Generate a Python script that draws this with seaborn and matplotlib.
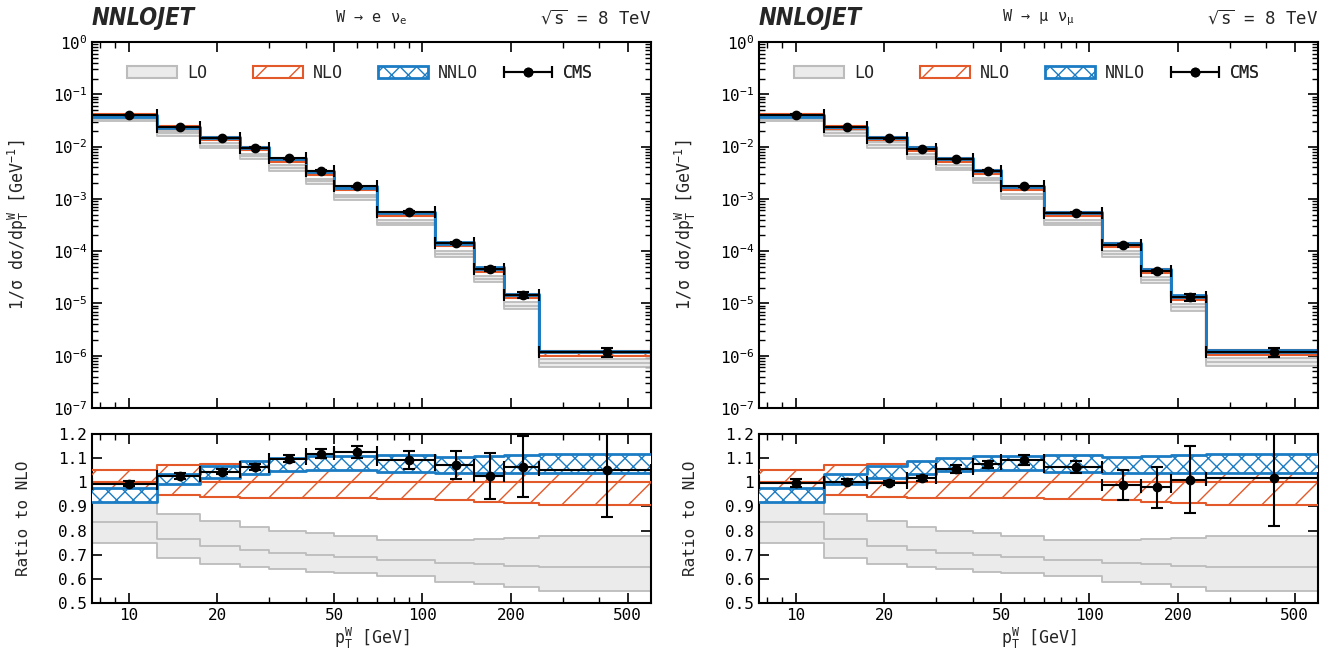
#!/usr/bin/env python3
"""
W boson pT spectrum at 8 TeV: NNLOJET predictions vs CMS data
"""

import numpy as np
import matplotlib
matplotlib.use('Agg')
import matplotlib.pyplot as plt
import seaborn as sns
from matplotlib.patches import Patch
from matplotlib.legend_handler import HandlerErrorbar
from matplotlib.ticker import FixedLocator, FuncFormatter, LogFormatterSciNotation, NullFormatter

# bins in pT^W [GeV]
bin_edges = [7.5, 12.5, 17.5, 24, 30, 40, 50, 70, 110, 150, 190, 250, 600]
pt_centers = [10, 15, 20.75, 27, 35, 45, 60, 90, 130, 170, 220, 425]

# NLO central normalised cross sections [GeV^-1]
nlo_e_xs = [0.0408, 0.0233, 0.01408, 0.00902, 0.00544, 0.00309, 0.00156,
            0.000508, 1.335e-4, 4.39e-5, 1.38e-5, 1.11e-6]
nlo_mu_xs = [0.0407, 0.0234, 0.01434, 0.00888, 0.00550, 0.00322, 0.00158,
             0.000507, 1.31e-4, 4.18e-5, 1.29e-5, 1.15e-6]

# theory bands as ratio to NLO central
lo_ratio_hi = [0.920, 0.869, 0.838, 0.813, 0.800, 0.788, 0.776, 0.762, 0.759, 0.765, 0.769, 0.779]
lo_ratio_mid = [0.835, 0.766, 0.738, 0.720, 0.709, 0.700, 0.690, 0.678, 0.665, 0.660, 0.655, 0.648]
lo_ratio_low = [0.748, 0.688, 0.662, 0.648, 0.640, 0.630, 0.623, 0.612, 0.588, 0.577, 0.567, 0.549]

nlo_ratio_hi = [1.050, 1.070, 1.077, 1.082, 1.085, 1.086, 1.087, 1.088, 1.090, 1.093, 1.096, 1.100]
nlo_ratio_mid = [1.0] * 12
nlo_ratio_low = [0.953, 0.947, 0.939, 0.936, 0.934, 0.933, 0.933, 0.932, 0.926, 0.920, 0.915, 0.907]

nnlo_ratio_hi = [0.978, 1.033, 1.068, 1.089, 1.100, 1.110, 1.110, 1.112, 1.103, 1.110, 1.112, 1.117]
nnlo_ratio_low = [0.918, 0.991, 1.019, 1.036, 1.047, 1.050, 1.050, 1.044, 1.040, 1.040, 1.040, 1.040]

# CMS data as ratio to NLO, with total uncertainty
cms_e_ratio = [0.994, 1.025, 1.044, 1.064, 1.098, 1.119, 1.124, 1.093, 1.071, 1.026, 1.065, 1.051]
cms_e_err = [0.010, 0.012, 0.010, 0.012, 0.015, 0.020, 0.025, 0.037, 0.058, 0.095, 0.127, 0.196]
cms_mu_ratio = [0.997, 1.003, 0.997, 1.016, 1.055, 1.075, 1.092, 1.064, 0.987, 0.980, 1.011, 1.019]
cms_mu_err = [0.015, 0.010, 0.008, 0.012, 0.015, 0.015, 0.020, 0.025, 0.062, 0.085, 0.139, 0.200]

x_ticks = [10, 20, 50, 100, 200, 500]
x_minor_ticks = [8, 9, 30, 40, 60, 70, 80, 90, 300, 400]
xs_ticks = [1e-7, 1e-6, 1e-5, 1e-4, 1e-3, 1e-2, 1e-1, 1e0]
ratio_ticks = [0.5, 0.6, 0.7, 0.8, 0.9, 1.0, 1.1, 1.2]
legend_labels = ['LO', 'NLO', 'NNLO', 'CMS']

channels = [
    ('W → e $\\nu_e$', nlo_e_xs, cms_e_ratio, cms_e_err),
    ('W → μ $\\nu_\\mu$', nlo_mu_xs, cms_mu_ratio, cms_mu_err),
]

ORANGE = '#e3592a'
BLUE = '#1b7cc4'
LO_FILL = '#ebebeb'
LO_LINE = '#bcbcbc'

sns.set_theme(style='ticks')
plt.rcParams['font.family'] = ['DejaVu Sans Mono', 'DejaVu Sans']
plt.rcParams['mathtext.default'] = 'regular'
plt.rcParams['hatch.linewidth'] = 1.0
plt.rcParams['font.size'] = 11


def ext(a):
    a = np.asarray(a, dtype=float)
    return np.append(a, a[-1])


def step_line(ax, vals, color, lw, z):
    sns.lineplot(x=bin_edges, y=ext(vals), drawstyle='steps-post', color=color,
                 lw=lw, ax=ax, zorder=z, legend=False, estimator=None, sort=False)


def draw_panel(ax, scale, cms_ratio, cms_err):
    scale = np.asarray(scale, dtype=float)
    edges = np.asarray(bin_edges, dtype=float)
    cen = np.asarray(pt_centers, dtype=float)

    # LO
    ax.fill_between(edges, ext(np.multiply(lo_ratio_low, scale)), ext(np.multiply(lo_ratio_hi, scale)),
                    step='post', color=LO_FILL, lw=0, zorder=1)
    for arr in (lo_ratio_low, lo_ratio_mid, lo_ratio_hi):
        step_line(ax, np.multiply(arr, scale), LO_LINE, 1.3, 2)

    # NLO
    ax.fill_between(edges, ext(np.multiply(nlo_ratio_low, scale)), ext(np.multiply(nlo_ratio_hi, scale)),
                    step='post', facecolor='none', edgecolor=ORANGE, hatch='/', lw=0, zorder=3)
    for arr in (nlo_ratio_low, nlo_ratio_mid, nlo_ratio_hi):
        step_line(ax, np.multiply(arr, scale), ORANGE, 1.5, 4)

    # NNLO
    ax.fill_between(edges, ext(np.multiply(nnlo_ratio_low, scale)), ext(np.multiply(nnlo_ratio_hi, scale)),
                    step='post', facecolor='white', edgecolor=BLUE, hatch='xx', lw=0, zorder=5)
    for arr in (nnlo_ratio_low, nnlo_ratio_hi):
        step_line(ax, np.multiply(arr, scale), BLUE, 2.0, 6)

    # CMS
    y = np.multiply(cms_ratio, scale)
    yerr = np.multiply(cms_err, scale)
    xerr = [cen - edges[:-1], edges[1:] - cen]
    ax.errorbar(cen, y, xerr=xerr, yerr=yerr, fmt='o', color='black', ms=6,
                elinewidth=1.5, capsize=4, capthick=1.5, zorder=10)


def style_axes(ax):
    ax.set_xscale('log')
    ax.set_xlim(7.5, 600)
    ax.xaxis.set_major_locator(FixedLocator(x_ticks))
    ax.xaxis.set_minor_locator(FixedLocator(x_minor_ticks))
    ax.xaxis.set_major_formatter(FuncFormatter(lambda v, p: f'{v:g}'))
    ax.xaxis.set_minor_formatter(NullFormatter())
    ax.tick_params(which='both', direction='in', top=True, right=True, colors='black', labelsize=11.5)
    ax.tick_params(which='major', length=7, width=1.2)
    ax.tick_params(which='minor', length=4, width=1.0)
    for sp in ax.spines.values():
        sp.set_linewidth(1.5)
        sp.set_color('black')


fig = plt.figure(figsize=(13.28, 6.68), dpi=100)
W, H = 1328, 668
lefts = [92, 759]
width = 559
legend_x = [0.063, 0.288, 0.512, 0.735]
minor_log = [m * d for d in xs_ticks[:-1] for m in range(2, 10)]

for (proc, nlo_xs, cms_ratio, cms_err), left in zip(channels, lefts):
    ax_top = fig.add_axes([left / W, 1 - 408 / H, width / W, 366 / H])
    ax_rat = fig.add_axes([left / W, 1 - 603 / H, width / W, 169 / H])

    draw_panel(ax_top, nlo_xs, cms_ratio, cms_err)
    draw_panel(ax_rat, np.ones(12), cms_ratio, cms_err)

    style_axes(ax_top)
    ax_top.set_yscale('log')
    ax_top.set_ylim(1e-7, 1)
    ax_top.yaxis.set_major_locator(FixedLocator(xs_ticks))
    ax_top.yaxis.set_minor_locator(FixedLocator(minor_log))
    ax_top.yaxis.set_major_formatter(LogFormatterSciNotation())
    ax_top.yaxis.set_minor_formatter(NullFormatter())
    ax_top.tick_params(axis='x', labelbottom=False)
    ax_top.set_xlabel('')
    ax_top.set_ylabel('1/σ dσ/dp$_T^W$ [GeV$^{-1}$]', fontsize=12)
    ax_top.yaxis.set_label_coords(-0.11, 0.5)

    style_axes(ax_rat)
    ax_rat.set_ylim(0.5, 1.2)
    ax_rat.yaxis.set_major_locator(FixedLocator(ratio_ticks))
    ax_rat.yaxis.set_major_formatter(FuncFormatter(lambda v, p: f'{v:g}'))
    ax_rat.set_ylabel('Ratio to NLO', fontsize=11.5)
    ax_rat.yaxis.set_label_coords(-0.11, 0.5)
    ax_rat.set_xlabel('p$_T^W$ [GeV]', fontsize=12, labelpad=2)

    # legend, one entry at a time to keep the even spacing
    cms_handle = ax_top.errorbar([np.nan], [np.nan], xerr=[1], fmt='o', color='black', ms=6,
                                 elinewidth=1.5, capsize=4, capthick=1.5)
    handles = [
        Patch(facecolor=LO_FILL, edgecolor=LO_LINE, lw=1.5),
        Patch(facecolor='white', edgecolor=ORANGE, hatch='/', lw=1.5),
        Patch(facecolor='white', edgecolor=BLUE, hatch='xx', lw=2),
        cms_handle,
    ]
    for h, lab, lx in zip(handles, legend_labels, legend_x):
        leg = ax_top.legend([h], [lab], frameon=False, loc='center left',
                            bbox_to_anchor=(lx, 0.915), borderpad=0, borderaxespad=0,
                            handlelength=3.0, handleheight=0.75, handletextpad=0.6,
                            fontsize=12, handler_map={type(cms_handle): HandlerErrorbar(xerr_size=1.45)})
        ax_top.add_artist(leg)

    # header
    fig.text(left / W, 1 - 18 / H, 'NNLOJET', family='DejaVu Sans', fontstretch='condensed',
             weight='bold', style='italic', fontsize=17, ha='left', va='center')
    fig.text((left + width / 2) / W, 1 - 18 / H, proc, fontsize=11, ha='center', va='center')
    fig.text((left + width) / W, 1 - 18 / H, '$\\sqrt{s}$ = 8 TeV', fontsize=12.5, ha='right', va='center')

fig.savefig('out.png', dpi=100)
